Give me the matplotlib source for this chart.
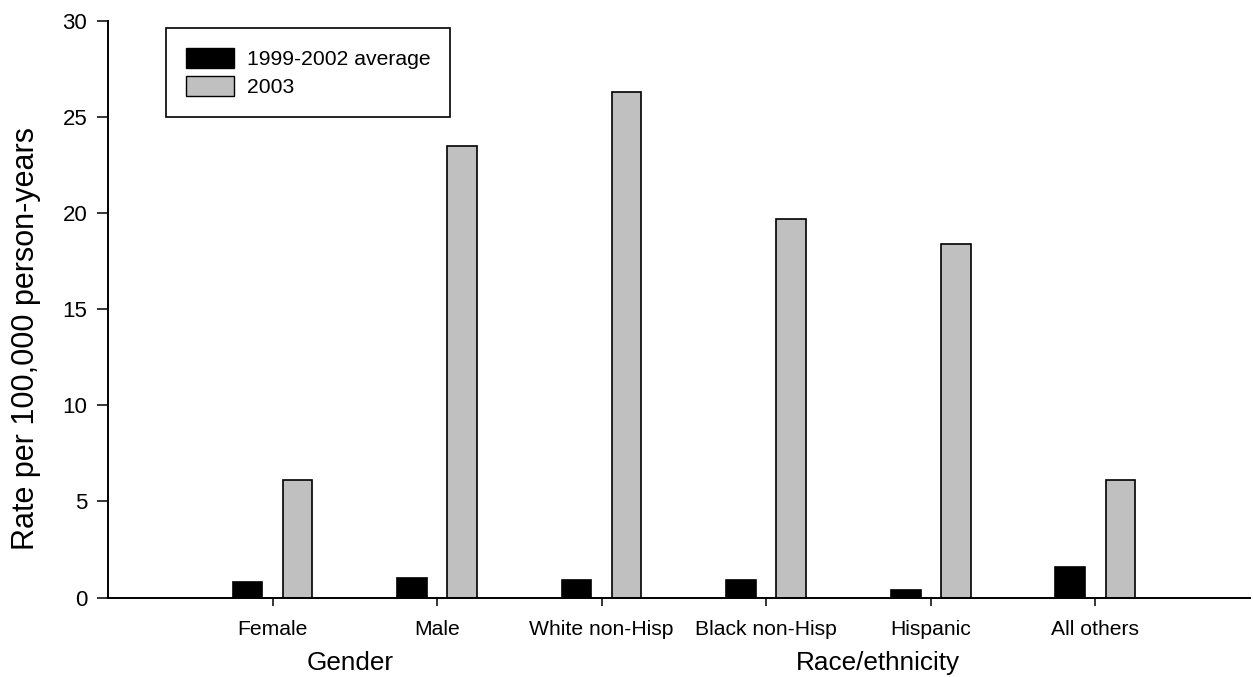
import numpy as np
import matplotlib.pyplot as plt
from matplotlib.patches import Patch
import matplotlib.transforms as mtransforms

plt.rcParams['font.family'] = ['Liberation Sans', 'DejaVu Sans']

categories = ['Female', 'Male', 'White non-Hisp', 'Black non-Hisp', 'Hispanic', 'All others']
avg_1999_2002 = [0.8, 1.0, 0.9, 0.9, 0.4, 1.6]
rate_2003 = [6.1, 23.5, 26.3, 19.7, 18.4, 6.1]
series_names = ['1999-2002 average', '2003']
groups = ['Gender', 'Race/ethnicity']

x = np.arange(1, len(categories) + 1)
w = 0.18
off = 0.152

fig = plt.figure(figsize=(12.53, 6.77), dpi=100)
ax = fig.add_axes([108/1253, 1 - 597.5/677, 1142/1253, 576.5/677])

ax.bar(x - off, avg_1999_2002, width=w, color='black', edgecolor='black', linewidth=1.2)
ax.bar(x + off, rate_2003, width=w, color='#c0c0c0', edgecolor='black', linewidth=1.2)

ax.set_xlim(0, 6.94)
ax.set_ylim(0, 30)
ax.set_yticks([0, 5, 10, 15, 20, 25, 30])
ax.set_xticks(x)
ax.set_xticklabels(categories)

for s in ['top', 'right']:
    ax.spines[s].set_visible(False)
for s in ['left', 'bottom']:
    ax.spines[s].set_linewidth(1.4)

ax.tick_params(axis='y', direction='out', length=8, width=1.1, pad=7, labelsize=16)
ax.tick_params(axis='x', direction='out', length=6, width=1.1, pad=10, labelsize=15.2)

ax.set_ylabel('Rate per 100,000 person-years', fontsize=22)
ax.yaxis.set_label_coords(-0.0587, 0.45)

# group labels under the category names
trans = mtransforms.blended_transform_factory(ax.transData, ax.transAxes)
ax.text(1.47, -0.1136, groups[0], transform=trans, ha='center', va='center', fontsize=18.8)
ax.text(4.68, -0.1136, groups[1], transform=trans, ha='center', va='center', fontsize=18.8)

handles = [Patch(facecolor='black', edgecolor='black', linewidth=1.0),
           Patch(facecolor='#c0c0c0', edgecolor='black', linewidth=1.0)]
leg = ax.legend(handles, series_names, loc='upper left', bbox_to_anchor=(0.0508, 0.988),
                borderaxespad=0, fontsize=15.2, frameon=True, fancybox=False,
                edgecolor='black', handlelength=2.27, handleheight=1.05,
                handletextpad=0.6, labelspacing=0.35, borderpad=0.95)
leg.get_frame().set_linewidth(1.2)
leg.get_frame().set_alpha(1)

fig.savefig('out.png', dpi=100)
